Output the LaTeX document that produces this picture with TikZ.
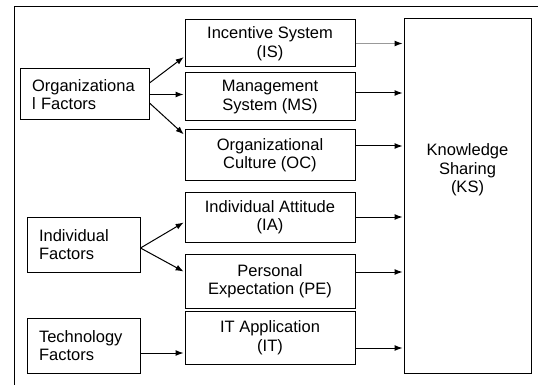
\documentclass[tikz,border=0pt]{standalone}
\usepackage{fontspec}
\setmainfont{Liberation Sans}
\usetikzlibrary{arrows.meta,positioning}
\usetikzlibrary{calc}

\begin{document}
\begin{tikzpicture}[x=1pt,y=-1pt,line width=1pt,
  box/.style={draw, rectangle, inner sep=0pt, align=center,
    font=\fontsize{16.5}{18.5}\selectfont},
  fbox/.style={box, align=left, inner xsep=12pt, text width=#1},
  mbox/.style={box, minimum width=170pt},
  arr/.style={-{Latex[length=8pt,width=6pt,black]}, shorten >=1pt}]
\useasboundingbox (0,0) rectangle (538,385);
\draw (538,7) -- (14,7) -- (14,385);

% factor groups
\node[fbox=105pt, minimum height=51pt] (org) at (84.5,94.5) {Organizationa\\l Factors};
\node[fbox=89pt, minimum height=55pt] (ind) at (83.5,244.5) {Individual\\Factors};
\node[fbox=89pt, minimum height=55pt] (tech) at (83.5,345.5) {Technology\\Factors};

% middle column
\node[mbox, minimum height=47pt] (is) at (270,43.5) {Incentive System\\(IS)};
\node[mbox, minimum height=48pt] (ms) at (270,97) {Management\\System (MS)};
\node[mbox, minimum height=50pt] (oc) at (270,155) {Organizational\\Culture (OC)};
\node[mbox, minimum height=50pt] (ia) at (270,217) {Individual Attitude\\(IA)};
\node[mbox, minimum height=54pt] (pe) at (270,281) {Personal\\Expectation (PE)};
\node[mbox, minimum height=53pt] (it) at (270,337.5) {IT Application\\(IT)};

% outcome
\node[box, minimum width=127pt, minimum height=354pt] (ks) at (467.5,196) {};
\node[align=center, inner sep=0pt, font=\fontsize{16.5}{18.5}\selectfont] (kstext) at (467.5,170) {Knowledge\\Sharing\\(KS)};

% left arrows
\draw[arr] ($(org.east)+(0,-11.5)$) -- ($(is.west)+(0,13)$);
\draw[arr] (org.east) -- (org.east -| ms.west);
\draw[arr] ($(org.east)+(0,8.5)$) -- ($(oc.west)+(0,-20)$);
\draw[arr] ($(ind.east)+(0,3.5)$) -- ($(ia.west)+(0,5)$);
\draw[arr] ($(ind.east)+(0,3.5)$) -- ($(pe.west)+(0,-9)$);
\draw[arr] ($(tech.east)+(0,7.5)$) coordinate (t) -- (t -| it.west);

% right arrows
\draw[arr, black!40] (is.east) -- (is.east -| ks.west);
\draw[arr] ($(ms.east)+(0,-4)$) coordinate (m) -- (m -| ks.west);
\draw[arr] ($(oc.east)+(0,-9)$) coordinate (o) -- (o -| ks.west);
\draw[arr] (ia.east) -- (ia.east -| ks.west);
\draw[arr] ($(pe.east)+(0,-9)$) coordinate (p) -- (p -| ks.west);
\draw[arr] ($(it.east)+(0,10.5)$) coordinate (i) -- (i -| ks.west);
\end{tikzpicture}
\end{document}
